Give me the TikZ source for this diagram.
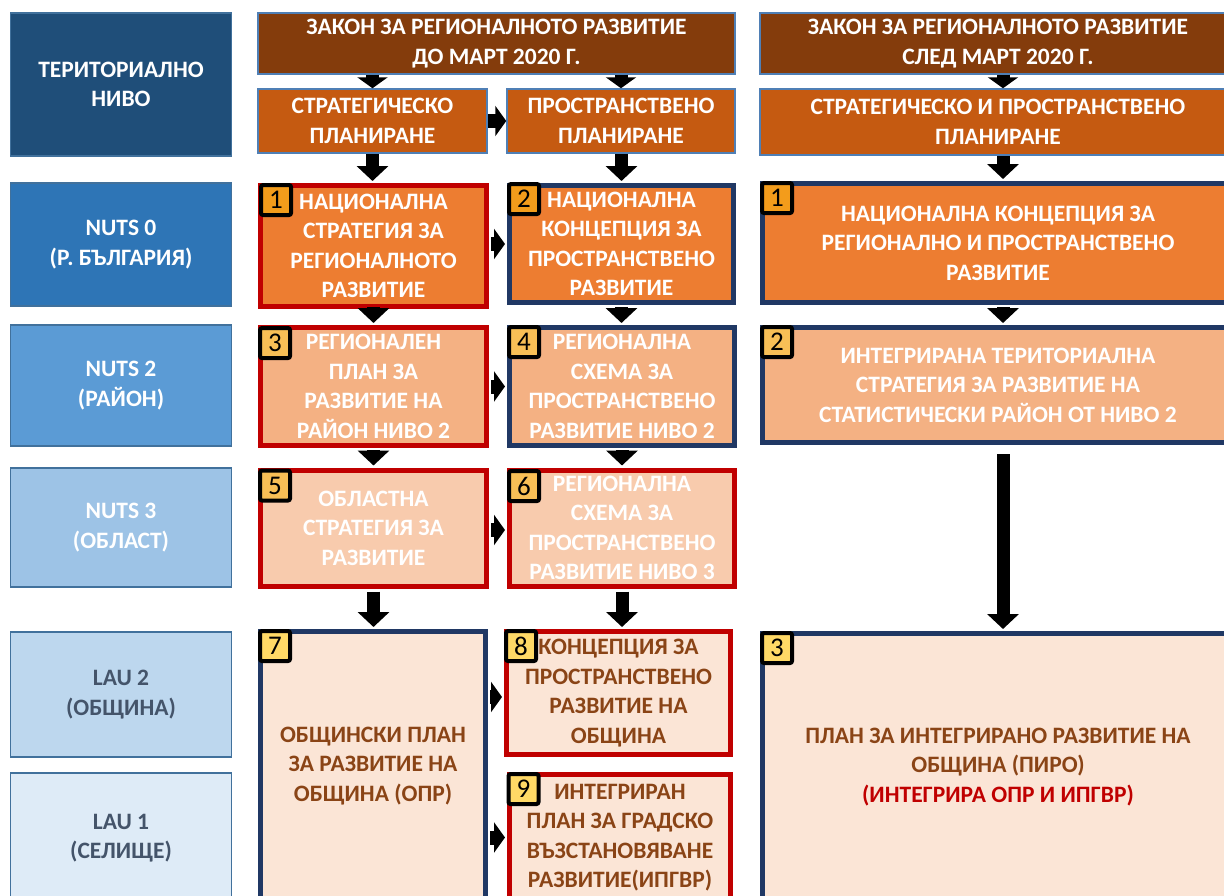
\documentclass[tikz,border=0pt]{standalone}
\usepackage{fontspec}
\setmainfont{Carlito}
\usetikzlibrary{arrows.meta,calc}
\definecolor{lv0}{HTML}{1F4E79}
\definecolor{lv1}{HTML}{2E75B6}
\definecolor{lv2}{HTML}{5B9BD5}
\definecolor{lv3}{HTML}{9DC3E6}
\definecolor{lv4}{HTML}{BDD7EE}
\definecolor{lv5}{HTML}{DEEBF7}
\definecolor{lvborder}{HTML}{41719C}
\definecolor{lautext}{HTML}{44546A}
\definecolor{lawfill}{HTML}{843C0C}
\definecolor{planfill}{HTML}{C55A11}
\definecolor{thinblue}{HTML}{4F7FB5}
\definecolor{row0}{HTML}{ED7D31}
\definecolor{row1}{HTML}{F4B183}
\definecolor{row2}{HTML}{F8CBAD}
\definecolor{row3}{HTML}{FBE5D6}
\definecolor{myred}{HTML}{C00000}
\definecolor{mynavy}{HTML}{203864}
\definecolor{browntext}{HTML}{8A4416}
\definecolor{bdgA}{HTML}{F39C1B}
\definecolor{bdgB}{HTML}{F8BF56}
\definecolor{bdgC}{HTML}{FFD966}
\newcommand\bxfont{\fontsize{23.5}{29.5}\selectfont\bfseries}
\tikzset{
  box/.style={rectangle, inner sep=0pt, align=center, font=\bxfont, text=white},
  lvl/.style={box, draw=lvborder, line width=1.5pt, minimum width=221pt},
  thinbox/.style={box, draw=thinblue, line width=1.5pt},
  redb/.style={box, draw=myred, line width=5pt},
  navb/.style={box, draw=mynavy, line width=5pt},
  badge/.style={draw=black, line width=4pt, rounded corners=2pt, minimum size=30pt, inner sep=0pt, font=\fontsize{27}{27}\selectfont, text=black},
  arr/.style={line width=13pt, -{Triangle[length=15pt,width=31pt]}},
  sarr/.style={line width=13pt, -{Triangle[length=11pt,width=30pt]}},
  harr/.style={line width=14pt, -{Triangle[length=11pt,width=30pt]}},
}
\begin{document}
\begin{tikzpicture}[x=1pt,y=-1pt]
\useasboundingbox (0,0) rectangle (1224,895);
\clip (0,0) rectangle (1224,895);
\fill[white] (0,0) rectangle (1224,895);
% level column
\node[lvl, fill=lv0, minimum height=143pt] (lev0) at (121,84.5) {ТЕРИТОРИАЛНО\\НИВО};
\node[lvl, fill=lv1, minimum height=123pt] (lev1) at (121,244.5) {NUTS 0\\(Р. БЪЛГАРИЯ)};
\node[lvl, fill=lv2, minimum height=121pt] (lev2) at (121,385.5) {NUTS 2\\(РАЙОН)};
\node[lvl, fill=lv3, minimum height=119pt] (lev3) at (121,527.5) {NUTS 3\\(ОБЛАСТ)};
\node[lvl, fill=lv4, minimum height=125pt, text=lautext] (lev4) at (121,694.5) {LAU 2\\(ОБЩИНА)};
\node[lvl, fill=lv5, minimum height=130pt, text=lautext] (lev5) at (121,838) {LAU 1\\(СЕЛИЩЕ)};
% laws
\node[thinbox, fill=lawfill, minimum width=477pt, minimum height=61pt] (law1) at (496.5,43.5) {ЗАКОН ЗА РЕГИОНАЛНОТО РАЗВИТИЕ\\ДО МАРТ 2020 Г.};
\node[thinbox, fill=lawfill, minimum width=476pt, minimum height=61pt] (law2) at (998,43.5) {ЗАКОН ЗА РЕГИОНАЛНОТО РАЗВИТИЕ\\СЛЕД МАРТ 2020 Г.};
% planning
\node[thinbox, fill=planfill, minimum width=229pt, minimum height=64pt] (plan1) at (372.5,121) {СТРАТЕГИЧЕСКО\\ПЛАНИРАНЕ};
\node[thinbox, fill=planfill, minimum width=228pt, minimum height=64pt] (plan2) at (621,121) {ПРОСТРАНСТВЕНО\\ПЛАНИРАНЕ};
\node[thinbox, fill=planfill, minimum width=476pt, minimum height=66pt] (plan3) at (998,122) {СТРАТЕГИЧЕСКО И ПРОСТРАНСТВЕНО\\ПЛАНИРАНЕ};
% NUTS 0 row
\node[redb, fill=row0, minimum width=226pt, minimum height=121pt] (b1) at (373.5,246) {НАЦИОНАЛНА\\СТРАТЕГИЯ ЗА\\РЕГИОНАЛНОТО\\РАЗВИТИЕ};
\node[navb, fill=row0, minimum width=224pt, minimum height=117pt] (b2) at (621.5,244) {НАЦИОНАЛНА\\КОНЦЕПЦИЯ ЗА\\ПРОСТРАНСТВЕНО\\РАЗВИТИЕ};
\node[navb, fill=row0, minimum width=471pt, minimum height=119pt] (r1) at (998,243) {НАЦИОНАЛНА КОНЦЕПЦИЯ ЗА\\РЕГИОНАЛНО И ПРОСТРАНСТВЕНО\\РАЗВИТИЕ};
% NUTS 2 row
\node[redb, fill=row1, minimum width=226pt, minimum height=118pt] (b3) at (373.5,386.5) {РЕГИОНАЛЕН\\ПЛАН ЗА\\РАЗВИТИЕ НА\\РАЙОН НИВО 2};
\node[navb, fill=row1, minimum width=225pt, minimum height=118pt] (b4) at (622,386.5) {РЕГИОНАЛНА\\СХЕМА ЗА\\ПРОСТРАНСТВЕНО\\РАЗВИТИЕ НИВО 2};
\node[navb, fill=row1, minimum width=471pt, minimum height=115pt] (r2) at (998,385) {ИНТЕГРИРАНА ТЕРИТОРИАЛНА\\СТРАТЕГИЯ ЗА РАЗВИТИЕ НА\\СТАТИСТИЧЕСКИ РАЙОН ОТ НИВО 2};
% NUTS 3 row
\node[redb, fill=row2, minimum width=226pt, minimum height=116pt] (b5) at (373.5,528) {ОБЛАСТНА\\СТРАТЕГИЯ ЗА\\РАЗВИТИЕ};
\node[redb, fill=row2, minimum width=225pt, minimum height=116pt] (b6) at (622,528) {РЕГИОНАЛНА\\СХЕМА ЗА\\ПРОСТРАНСТВЕНО\\РАЗВИТИЕ НИВО 3};
% LAU rows
\node[navb, fill=row3, text=browntext, minimum width=225pt, minimum height=269pt] (b7) at (373,766) {ОБЩИНСКИ ПЛАН\\ЗА РАЗВИТИЕ НА\\ОБЩИНА (ОПР)};
\node[redb, fill=row3, text=browntext, minimum width=224pt, minimum height=123pt] (b8) at (618.5,693) {КОНЦЕПЦИЯ ЗА\\ПРОСТРАНСТВЕНО\\РАЗВИТИЕ НА\\ОБЩИНА};
\node[redb, fill=row3, text=browntext, minimum width=221pt, minimum height=126pt] (b9) at (620,837.5) {ИНТЕГРИРАН\\ПЛАН ЗА ГРАДСКО\\ВЪЗСТАНОВЯВАНЕ\\РАЗВИТИЕ(ИПГВР)};
\node[navb, fill=row3, text=browntext, minimum width=471pt, minimum height=267pt] (r3) at (998,767) {ПЛАН ЗА ИНТЕГРИРАНО РАЗВИТИЕ НА\\ОБЩИНА (ПИРО)\\{\color{myred}(ИНТЕГРИРА ОПР И ИПГВР)}};
% badges
\node[badge, fill=bdgA] (n1) at (276,200) {1};
\node[badge, fill=bdgA] (n2) at (524,199) {2};
\node[badge, fill=bdgA] (m1) at (777,198) {1};
\node[badge, fill=bdgB] (n3) at (275,343) {3};
\node[badge, fill=bdgB] (n4) at (524,342) {4};
\node[badge, fill=bdgB] (m2) at (777,342) {2};
\node[badge, fill=bdgB] (n5) at (275,485.5) {5};
\node[badge, fill=bdgB] (n6) at (524,486) {6};
\node[badge, fill=bdgC] (n7) at (275,646) {7};
\node[badge, fill=bdgC] (n8) at (521,646) {8};
\node[badge, fill=bdgC] (n9) at (523.5,789) {9};
\node[badge, fill=bdgC] (m3) at (777,648) {3};
% vertical arrows
\draw[sarr] (law1.south -| plan1.north) -- (plan1.north);
\draw[sarr] (law1.south -| plan2.north) -- (plan2.north);
\draw[sarr] ([xshift=5pt]law2.south) -- ([xshift=5pt]plan3.north);
\draw[arr, shorten >=2pt] (plan1.south) -- (plan1.south |- b1.north);
\draw[arr, shorten >=2pt] (plan2.south -| b2.north) -- (b2.north);
\draw[arr, shorten >=2pt] ([xshift=5pt]plan3.south) -- ([xshift=5pt]r1.north);
\draw[arr, shorten >=2pt, shorten <=2pt] (b1.south) -- (b1.south |- b3.north);
\draw[arr, shorten >=2pt, shorten <=2pt] (b2.south) -- (b2.south |- b4.north);
\draw[arr, shorten >=2pt, shorten <=2pt] ([xshift=5pt]r1.south) -- ([xshift=5pt]r2.north);
\draw[arr, shorten >=2pt, shorten <=2pt] (b3.south) -- (b3.south |- b5.north);
\draw[arr, shorten >=2pt, shorten <=2pt] (b4.south) -- (b4.south |- b6.north);
\draw[arr, shorten >=2pt, shorten <=3pt] (b5.south) -- (b5.south |- b7.north);
\draw[arr, shorten >=2pt, shorten <=3pt] (b6.south) -- (b6.south |- b8.north);
\draw[arr, shorten >=2pt, shorten <=9pt] ([xshift=5pt]r2.south) -- ([xshift=5pt]r3.north);
% horizontal arrows
\draw[harr] (plan1.east) -- (plan1.east -| plan2.west);
\draw[harr, shorten >=2pt, shorten <=2pt] (b1.east |- b2.west) -- (b2.west);
\draw[harr, shorten >=2pt, shorten <=2pt] (b3.east) -- (b3.east -| b4.west);
\draw[harr, shorten >=2pt, shorten <=2pt] ([yshift=-2pt]b5.east) -- ([yshift=-2pt]b5.east -| b6.west);
\draw[harr, shorten >=2pt, shorten <=2pt] ([yshift=-4pt]b7.east |- b8.west) -- ([yshift=-4pt]b8.west);
\draw[harr, shorten >=2pt, shorten <=2pt] (b7.east |- b9.west) -- (b9.west);
\end{tikzpicture}
\end{document}
